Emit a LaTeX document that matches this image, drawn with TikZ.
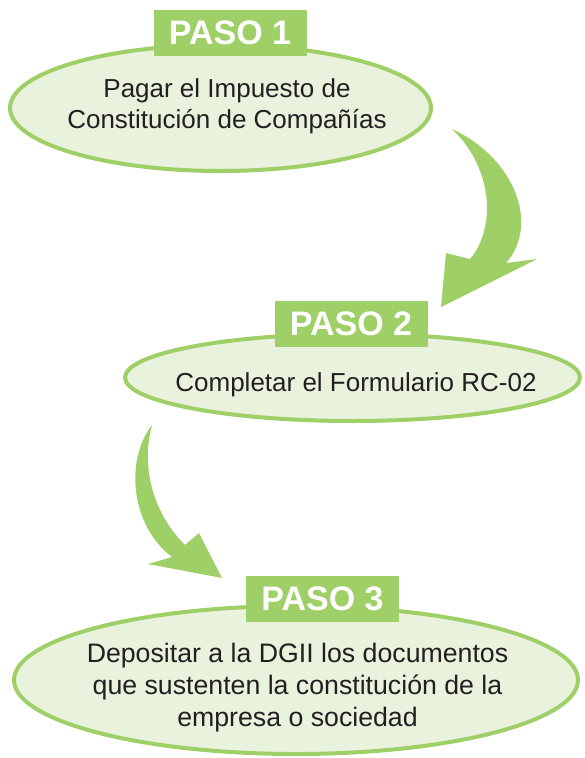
\documentclass[tikz,border=0pt]{standalone}
\usepackage{fontspec}
\setmainfont{Liberation Sans}
\usetikzlibrary{shapes.geometric}
\definecolor{pasogreen}{HTML}{9FCF67}
\definecolor{pasofill}{HTML}{E9F2DC}
\definecolor{pasoink}{HTML}{231F20}
\tikzset{
  pasoshape/.style={ellipse, draw=pasogreen, fill=pasofill, line width=4pt, inner sep=0pt},
  pasotext/.style={align=center, inner sep=0pt, text=pasoink, font=\fontsize{26}{31}\selectfont},
  pasobox/.style={fill=pasogreen, text=white, minimum width=153pt, minimum height=46pt, inner sep=0pt, font=\fontsize{34}{34}\selectfont\bfseries},
  flecha/.style={fill=pasogreen}
}
\begin{document}
\begin{tikzpicture}[x=1pt,y=-1pt]
\useasboundingbox (0,0) rectangle (584,758);
% flechas
\fill[flecha] (452,129) .. controls (515,158) and (540,225) .. (506,263) -- (537,259) -- (441,307) -- (446,253) -- (470,259) .. controls (495,230) and (495,170) .. (452,129) -- cycle;
\fill[flecha] (152,425) .. controls (125,460) and (130,525) .. (172,557) -- (148,564) -- (222,578) -- (199,533) -- (185,545) .. controls (155,515) and (140,470) .. (152,425) -- cycle;
% pasos
\node[pasoshape, minimum width=421pt, minimum height=126pt] (e1) at (220.5,108) {};
\node[pasoshape, minimum width=455pt, minimum height=87pt] (e2) at (352.5,377.5) {};
\node[pasoshape, minimum width=564pt, minimum height=148pt] (e3) at (296,680) {};
\node[pasobox] (p1) at (230,32.5) {PASO 1};
\node[pasobox] (p2) at (351,324) {PASO 2};
\node[pasobox] (p3) at (322.5,599) {PASO 3};
\node[pasotext] (t1) at (227,106.5) {Pagar el Impuesto de\\Constitución de Compañías};
\node[pasotext] (t2) at (356,385) {Completar el Formulario RC-02};
\node[pasotext, font=\fontsize{26.7}{32}\selectfont] (t3) at (297.5,688) {Depositar a la DGII los documentos\\que sustenten la constitución de la\\empresa o sociedad};
\end{tikzpicture}
\end{document}
